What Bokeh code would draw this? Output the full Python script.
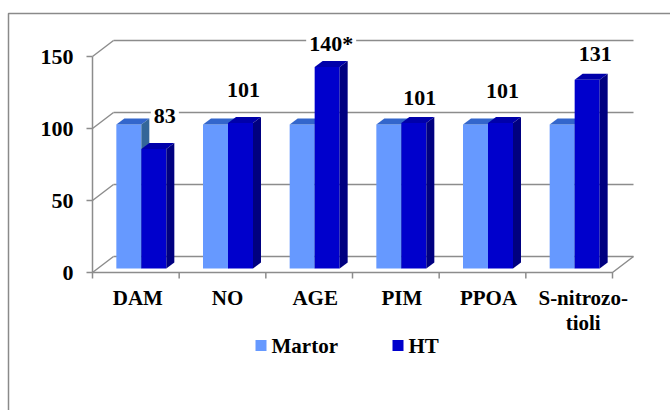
from bokeh.plotting import figure
from bokeh.models import Range1d
from bokeh.core.properties import value
from bokeh.embed import file_html
from bokeh.resources import INLINE

# ---- data ----
categories = ["DAM", "NO", "AGE", "PIM", "PPOA", "S-nitrozo-\ntioli"]
series_names = ["Martor", "HT"]
martor = [100, 100, 100, 100, 100, 100]
ht = [83, 101, 140, 101, 101, 131]
ht_labels = ["83", "101", "140*", "101", "101", "131"]
y_ticks = [0, 50, 100, 150]

# ---- layout (pixels) ----
W, H = 670, 410
AX_LEFT, AX_RIGHT = 92, 612       # front plane, left/right
ZERO_Y, TOP_Y = 272, 56           # front plane, value 0 / value 150
Y_MAX = 150
WALL_DX, WALL_DY = 21, 16         # depth of the 3-D box
BAR_OFF_DX, BAR_OFF_DY = 5.5, 4   # bars sit slightly behind the front plane
BAR_DX, BAR_DY = 8, 6             # depth of each bar
BAR_W = 25                        # front width of one bar
TICK_LEN = 6

# label nudges (px) relative to the top-centre of each HT bar
LABEL_DX = [11, 3, 4, 6, 2, 8]
LABEL_DY = [33, 33, 23, 25, 32, 26]
CAT_LABEL_DX = [2, 5, 6, 6, 6, 14]

# legend entries: swatch left edge and text left edge (px), shared centre line
LEG_SWATCH_X = [255, 392]
LEG_TEXT_X = [271, 408]
LEG_Y = 345
LEG_SWATCH = 11

FONT = "Liberation Serif"
GRID = "#8c8c8c"
COLORS = {
    "Martor": {"front": "#6699ff", "top": "#3366cc", "side": "#336699"},
    "HT": {"front": "#0000cc", "top": "#0000aa", "side": "#000080"},
}

n = len(categories)
CAT_W = (AX_RIGHT - AX_LEFT) / n
PX_PER_UNIT = (ZERO_Y - TOP_Y) / Y_MAX


def ux(px):
    """horizontal pixel distance -> data units"""
    return px / CAT_W


def uy(px):
    """vertical pixel distance (upwards) -> data units"""
    return px / PX_PER_UNIT


def to_x(px):
    return (px - AX_LEFT) / CAT_W


def to_y(py):
    return (ZERO_Y - py) / PX_PER_UNIT


p = figure(
    width=W, height=H, output_backend="svg", toolbar_location=None,
    x_range=Range1d(to_x(0), to_x(W)), y_range=Range1d(to_y(H), to_y(0)),
    x_axis_type=None, y_axis_type=None, min_border=0,
    outline_line_color=None, background_fill_color="white",
)

# outer frame of the chart area
p.line([to_x(8), to_x(8), to_x(W + 10)], [to_y(H + 10), to_y(13), to_y(13)],
       line_color="#8a8a8a", line_width=1.5)

# back wall gridlines and left wall diagonals
DX, DY = ux(WALL_DX), uy(WALL_DY)
p.multi_line(xs=[[DX, n + DX] for _ in y_ticks], ys=[[t + DY, t + DY] for t in y_ticks],
             line_color=GRID, line_width=1.5)
p.multi_line(xs=[[0, DX] for _ in y_ticks], ys=[[t, t + DY] for t in y_ticks],
             line_color=GRID, line_width=1.5)
# floor front edge and right edge
p.line([0, n, n + DX], [0, 0, DY], line_color=GRID, line_width=1.5)
# front value axis with ticks
p.line([0, 0], [0, Y_MAX], line_color=GRID, line_width=1.5)
p.multi_line(xs=[[-ux(TICK_LEN), 0] for _ in y_ticks], ys=[[t, t] for t in y_ticks],
             line_color=GRID, line_width=1.5)
p.multi_line(xs=[[i, i] for i in range(n + 1)], ys=[[0, -uy(TICK_LEN)] for _ in range(n + 1)],
             line_color=GRID, line_width=1.5)

# ---- 3-D bars ----
bw, bdx, bdy = ux(BAR_W), ux(BAR_DX), uy(BAR_DY)
ox, oy = ux(BAR_OFF_DX), uy(BAR_OFF_DY)
for s, (name, vals) in enumerate(zip(series_names, [martor, ht])):
    lefts = [i + 0.5 - bw + s * bw + ox for i in range(n)]
    rights = [l + bw for l in lefts]
    bottoms = [oy] * n
    tops = [v + oy for v in vals]
    c = COLORS[name]
    p.quad(left=lefts, right=rights, bottom=bottoms, top=tops,
           fill_color=c["front"], line_color=None)
    p.patches(
        xs=[[l, r, r + bdx, l + bdx] for l, r in zip(lefts, rights)],
        ys=[[t, t, t + bdy, t + bdy] for t in tops],
        fill_color=c["top"], line_color=None)
    p.patches(
        xs=[[r, r, r + bdx, r + bdx] for r in rights],
        ys=[[b, t, t + bdy, b + bdy] for b, t in zip(bottoms, tops)],
        fill_color=c["side"], line_color=None)

# legend swatches
half = LEG_SWATCH / 2
p.quad(left=[to_x(x) for x in LEG_SWATCH_X],
       right=[to_x(x + LEG_SWATCH) for x in LEG_SWATCH_X],
       bottom=[to_y(LEG_Y + half)] * len(series_names),
       top=[to_y(LEG_Y - half)] * len(series_names),
       fill_color=[COLORS[s]["front"] for s in series_names], line_color=None)

# ---- all texts go on the overlay layer ----
TXT = dict(text_font=value(FONT), text_font_style="bold", text_color="black",
           level="overlay")

# value labels on the HT bars
lab_x = [i + 0.5 + bw / 2 + ox + ux(dx) for i, dx in zip(range(n), LABEL_DX)]
lab_y = [v + oy + uy(dy) for v, dy in zip(ht, LABEL_DY)]
p.text(x=lab_x, y=lab_y, text=ht_labels, text_font_size="22px", text_align="center",
       text_baseline="middle", background_fill_color="white", padding=3, **TXT)

# value axis labels
p.text(x=[to_x(73)] * len(y_ticks), y=y_ticks, text=[str(t) for t in y_ticks],
       text_font_size="22px", text_align="right", text_baseline="middle", **TXT)

# category labels
p.text(x=[i + 0.5 + ux(dx) for i, dx in zip(range(n), CAT_LABEL_DX)],
       y=[to_y(285)] * n, text=categories, text_font_size="21px",
       text_align="center", text_baseline="top", text_line_height=1.05, **TXT)

# legend names
p.text(x=[to_x(x) for x in LEG_TEXT_X], y=[to_y(LEG_Y)] * len(series_names),
       text=series_names, text_font_size="21px", text_align="left",
       text_baseline="middle", **TXT)

open("out.html", "w").write(file_html(p, INLINE))
